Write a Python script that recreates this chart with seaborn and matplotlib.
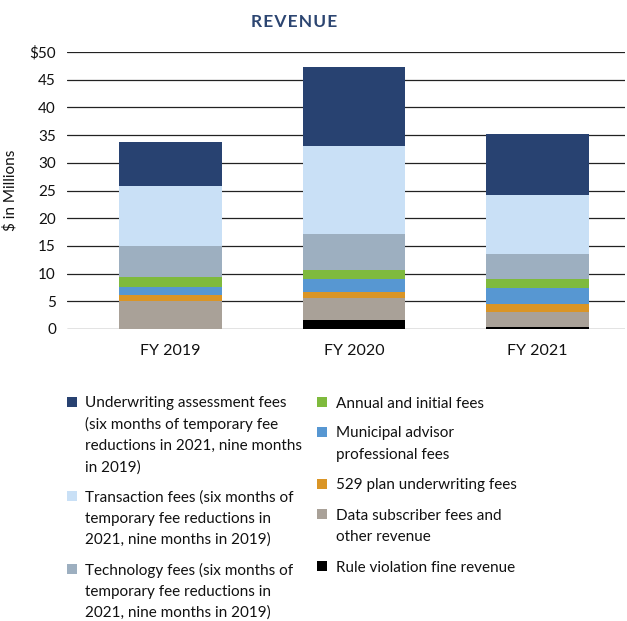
import pandas as pd
import matplotlib
matplotlib.use("Agg")
import matplotlib.pyplot as plt
from matplotlib.patches import Rectangle
import seaborn as sns

# values ($ millions)
years = ["FY 2019", "FY 2020", "FY 2021"]
rule_violation = [0.05, 1.6, 0.35]
data_subscriber = [4.95, 4.05, 2.75]
plan_529 = [1.1, 1.1, 1.45]
municipal_advisor = [1.5, 2.25, 2.9]
annual_initial = [1.8, 1.65, 1.55]
technology = [5.6, 6.55, 4.5]
transaction = [10.9, 15.8, 10.7]
underwriting = [7.85, 14.35, 11.0]

yticks = [0, 5, 10, 15, 20, 25, 30, 35, 40, 45, 50]
ytick_labels = ["0", "5", "10", "15", "20", "25", "30", "35", "40", "45", "$50"]

# stack order bottom -> top
series = [
    ("Rule violation fine revenue", rule_violation, "#000000"),
    ("Data subscriber fees and\nother revenue", data_subscriber, "#a9a198"),
    ("529 plan underwriting fees", plan_529, "#da9526"),
    ("Municipal advisor\nprofessional fees", municipal_advisor, "#5797d2"),
    ("Annual and initial fees", annual_initial, "#7fba3d"),
    ("Technology fees (six months of\ntemporary fee reductions in\n2021, nine months in 2019)", technology, "#9dafc0"),
    ("Transaction fees (six months of\ntemporary fee reductions in\n2021, nine months in 2019)", transaction, "#c9e0f6"),
    ("Underwriting assessment fees\n(six months of temporary fee\nreductions in 2021, nine months\nin 2019)", underwriting, "#284271"),
]

sns.set_style("white")
plt.rcParams["font.family"] = ["Lato", "DejaVu Sans"]

W, H = 627, 621
fig = plt.figure(figsize=(W / 100, H / 100), dpi=100)
ax = fig.add_axes([67 / W, 1 - 329 / H, (625 - 67) / W, (329 - 52) / H])

# cumulative totals, drawn from the top layer down so lower layers overlay
df = pd.DataFrame({"year": years})
running = [0.0] * len(years)
cums = []
for name, vals, color in series:
    running = [r + v for r, v in zip(running, vals)]
    cums.append((name, list(running), color))

for name, cum, color in reversed(cums):
    df["val"] = cum
    sns.barplot(data=df, x="year", y="val", color=color, width=0.56,
                saturation=1, ax=ax, zorder=3, linewidth=0, edgecolor="none")

ax.set_xlim(-0.564, 2.477)
ax.set_ylim(0, 50)
ax.set_yticks(yticks)
ax.set_yticklabels(ytick_labels)
ax.yaxis.grid(True, color="#222222", linewidth=0.9)
ax.set_axisbelow(True)
for s in ax.spines.values():
    s.set_visible(False)
ax.tick_params(axis="y", length=0, pad=8, labelsize=11, colors="#111111")
ax.tick_params(axis="x", length=0, pad=11, labelsize=11.5, colors="#111111")
ax.set_xlabel("")
ax.set_ylabel("$ in Millions", fontsize=11, color="#111111")
ax.yaxis.set_label_coords(-0.088, 0.5)

fig.text(294 / W, 1 - 22 / H, "\u200a".join("REVENUE"),
         ha="center", va="center", fontsize=12.5, fontweight="bold",
         color="#2c4571")

# legend, two columns laid out like the reference
left_items = [cums[7], cums[6], cums[5]]
right_items = [cums[4], cums[3], cums[2], cums[1], cums[0]]
left_y = [402, 496, 569]
right_y = [402, 432, 484, 514, 566]
line_h = 21.2
fs = 11

def legend_column(items, ys, x_box, x_text):
    for (name, _, color), y0 in zip(items, ys):
        fig.add_artist(Rectangle((x_box / W, 1 - (y0 + 5) / H), 10 / W, 10 / H,
                                 transform=fig.transFigure, color=color, lw=0))
        for i, line in enumerate(name.split("\n")):
            fig.text(x_text / W, 1 - (y0 + i * line_h) / H, line, ha="left",
                     va="center_baseline", fontsize=fs, color="#111111")

legend_column(left_items, left_y, 67, 85)
legend_column(right_items, right_y, 317, 336)

fig.savefig("out.png", dpi=100)
